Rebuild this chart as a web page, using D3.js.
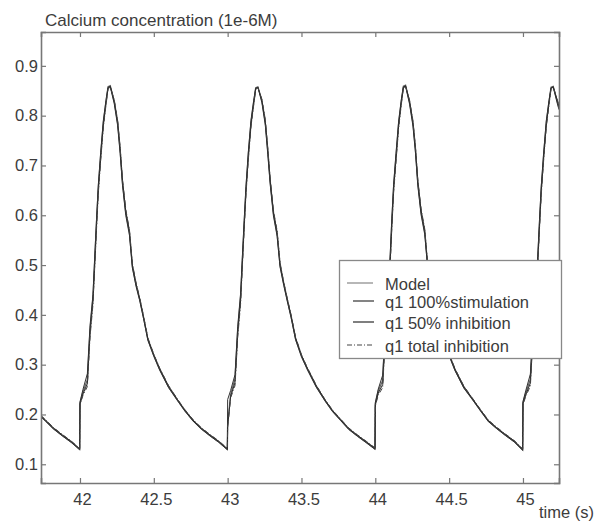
<!DOCTYPE html>
<html>
<head>
<meta charset="utf-8">
<script src="https://cdn.jsdelivr.net/npm/d3@7"></script>
<style>
body{margin:0;background:#fff}
text{font-family:"Liberation Sans",Arial,Helvetica,sans-serif;fill:#3c3c3c}
</style>
</head>
<body>
<div id="chart"></div>
<script>
var w = 595
var h = 523

// sample times (s)
var time = [
41.736,41.765,41.820,41.880,41.940,41.998,
42.000,42.020,42.050,42.068,42.088,42.100,42.112,42.124,42.140,42.158,42.176,42.190,42.205,42.232,42.255,42.272,42.288,42.310,42.335,42.355,42.380,42.405,42.430,42.460,42.500,42.540,42.600,42.660,42.710,42.765,42.820,42.880,42.940,42.998,
43.000,43.020,43.050,43.068,43.088,43.100,43.112,43.124,43.140,43.158,43.176,43.190,43.205,43.232,43.255,43.272,43.288,43.310,43.335,43.355,43.380,43.405,43.430,43.460,43.500,43.540,43.600,43.660,43.710,43.765,43.820,43.880,43.940,43.998,
44.000,44.020,44.050,44.068,44.088,44.100,44.112,44.124,44.140,44.158,44.176,44.190,44.205,44.232,44.255,44.272,44.288,44.310,44.335,44.355,44.380,44.405,44.430,44.460,44.500,44.540,44.600,44.660,44.710,44.765,44.820,44.880,44.940,44.998,
45.000,45.020,45.050,45.068,45.088,45.100,45.112,45.124,45.140,45.158,45.176,45.190,45.205,45.232,45.244
]

// calcium concentration (1e-6 M)
var model = [
0.196,0.188,0.172,0.158,0.145,0.130,
0.223,0.245,0.270,0.370,0.435,0.510,0.586,0.655,0.720,0.785,0.828,0.858,0.860,0.828,0.785,0.730,0.665,0.605,0.565,0.497,0.460,0.430,0.395,0.350,0.318,0.290,0.255,0.229,0.208,0.188,0.172,0.158,0.145,0.130,
0.178,0.240,0.272,0.368,0.438,0.512,0.584,0.652,0.722,0.786,0.826,0.856,0.858,0.830,0.786,0.728,0.668,0.604,0.562,0.499,0.462,0.428,0.396,0.352,0.317,0.291,0.256,0.228,0.207,0.189,0.171,0.157,0.144,0.131,
0.221,0.247,0.268,0.372,0.433,0.508,0.588,0.657,0.718,0.784,0.829,0.859,0.861,0.827,0.784,0.731,0.664,0.606,0.566,0.496,0.459,0.431,0.394,0.349,0.319,0.289,0.254,0.230,0.209,0.187,0.173,0.159,0.146,0.129,
0.224,0.244,0.271,0.369,0.436,0.511,0.585,0.654,0.721,0.786,0.827,0.857,0.859,0.829,0.815
]
var stim100 = [
0.195,0.187,0.171,0.157,0.144,0.129,
0.225,0.250,0.282,0.378,0.441,0.518,0.592,0.660,0.726,0.790,0.831,0.857,0.858,0.824,0.780,0.724,0.660,0.600,0.560,0.494,0.457,0.428,0.393,0.349,0.317,0.289,0.254,0.228,0.207,0.187,0.171,0.157,0.144,0.129,
0.230,0.248,0.280,0.376,0.444,0.519,0.590,0.658,0.727,0.791,0.830,0.855,0.857,0.826,0.781,0.722,0.662,0.599,0.558,0.496,0.459,0.426,0.394,0.350,0.316,0.290,0.255,0.227,0.206,0.188,0.170,0.156,0.143,0.130,
0.224,0.251,0.279,0.380,0.440,0.516,0.594,0.662,0.724,0.789,0.832,0.858,0.859,0.823,0.779,0.725,0.659,0.601,0.561,0.493,0.456,0.429,0.392,0.348,0.318,0.288,0.253,0.229,0.208,0.186,0.172,0.158,0.145,0.128,
0.226,0.249,0.281,0.377,0.442,0.517,0.591,0.659,0.725,0.790,0.830,0.856,0.857,0.825,0.812
]
var inhib50 = [
0.197,0.189,0.173,0.159,0.146,0.131,
0.221,0.241,0.262,0.362,0.428,0.503,0.579,0.649,0.714,0.780,0.824,0.855,0.859,0.830,0.788,0.734,0.669,0.609,0.568,0.500,0.462,0.432,0.397,0.352,0.320,0.292,0.257,0.230,0.209,0.189,0.173,0.159,0.146,0.131,
0.176,0.236,0.264,0.361,0.430,0.505,0.577,0.646,0.716,0.781,0.823,0.854,0.857,0.831,0.789,0.732,0.671,0.607,0.566,0.502,0.464,0.430,0.398,0.354,0.319,0.293,0.258,0.229,0.208,0.190,0.172,0.158,0.145,0.132,
0.219,0.243,0.260,0.364,0.426,0.501,0.581,0.651,0.712,0.779,0.825,0.856,0.860,0.829,0.787,0.735,0.668,0.610,0.569,0.499,0.461,0.433,0.396,0.351,0.321,0.291,0.256,0.231,0.210,0.188,0.174,0.160,0.147,0.130,
0.222,0.240,0.263,0.363,0.429,0.504,0.578,0.648,0.715,0.781,0.824,0.855,0.858,0.831,0.818
]
var inhibTotal = [
0.198,0.190,0.174,0.160,0.147,0.132,
0.219,0.238,0.256,0.355,0.421,0.497,0.572,0.643,0.709,0.776,0.821,0.853,0.858,0.832,0.791,0.737,0.672,0.612,0.571,0.503,0.464,0.434,0.399,0.354,0.321,0.293,0.258,0.231,0.210,0.190,0.174,0.160,0.147,0.132,
0.174,0.233,0.258,0.354,0.423,0.498,0.571,0.641,0.711,0.777,0.820,0.852,0.856,0.833,0.792,0.735,0.674,0.610,0.569,0.505,0.466,0.432,0.400,0.356,0.320,0.294,0.259,0.230,0.209,0.191,0.173,0.159,0.146,0.133,
0.217,0.239,0.254,0.357,0.419,0.495,0.574,0.645,0.707,0.775,0.822,0.854,0.859,0.831,0.790,0.738,0.671,0.613,0.572,0.502,0.463,0.435,0.398,0.353,0.322,0.292,0.257,0.232,0.211,0.189,0.175,0.161,0.148,0.131,
0.220,0.237,0.257,0.356,0.422,0.497,0.572,0.642,0.710,0.777,0.821,0.853,0.857,0.833,0.820
]

var seriesNames = ["Model","q1 100%stimulation","q1 50% inhibition","q1 total inhibition"]
var xTicks = [42,42.5,43,43.5,44,44.5,45]
var yTicks = [0.1,0.2,0.3,0.4,0.5,0.6,0.7,0.8,0.9]

var mLeft = 41, mRight = 559, mTop = 32, mBottom = 483

var x = d3.scaleLinear().domain([41.736,45.244]).range([mLeft,mRight])
var y = d3.scaleLinear().domain([0.0624,0.968]).range([mBottom,mTop])

var svg = d3.select("#chart").append("svg").attr("width",w).attr("height",h)

svg.append("clipPath").attr("id","clip")
    .append("rect").attr("x",mLeft).attr("y",mTop).attr("width",mRight-mLeft).attr("height",mBottom-mTop)

var styles = [
    {stroke:"#666",width:1.3,dash:null},
    {stroke:"#333",width:1,dash:null},
    {stroke:"#2a2a2a",width:1,dash:null},
    {stroke:"#444",width:1,dash:"5,2,1,2"}
]
var allSeries = [model,stim100,inhib50,inhibTotal]

var line = d3.line()
    .x(function(d){return x(d[0])})
    .y(function(d){return y(d[1])})

var plot = svg.append("g").attr("clip-path","url(#clip)")
allSeries.forEach(function(vals,i){
    var pts = time.map(function(t,j){return [t,vals[j]]})
    plot.append("path")
        .attr("d",line(pts))
        .attr("fill","none")
        .attr("stroke",styles[i].stroke)
        .attr("stroke-width",styles[i].width)
        .attr("stroke-dasharray",styles[i].dash)
})

// axes, ticks pointing inward on all four sides
var axisColor = "#777"
var xBottom = svg.append("g").attr("transform","translate(0,"+mBottom+")")
    .call(d3.axisBottom(x).tickValues(xTicks).tickSize(-5).tickPadding(10).tickFormat(d3.format("")))
svg.append("g").attr("transform","translate(0,"+mTop+")")
    .call(d3.axisTop(x).tickValues(xTicks).tickSize(-5).tickFormat(""))
svg.append("g").attr("transform","translate("+mLeft+",0)")
    .call(d3.axisLeft(y).tickValues(yTicks).tickSize(-5).tickPadding(3).tickFormat(d3.format(".1f")))
svg.append("g").attr("transform","translate("+mRight+",0)")
    .call(d3.axisRight(y).tickValues(yTicks).tickSize(-5).tickFormat(""))

svg.selectAll(".domain").attr("stroke",axisColor).attr("stroke-width",1.6)
svg.selectAll(".tick line").attr("stroke",axisColor).attr("stroke-width",1.2)
svg.selectAll(".tick text").attr("font-size",16.5).attr("fill","#3c3c3c")
    .style("font-family","'Liberation Sans',Arial,sans-serif")
xBottom.selectAll(".tick text").attr("dx",2)

svg.append("text").attr("x",45).attr("y",26).attr("font-size",17).text("Calcium concentration (1e-6M)")
svg.append("text").attr("x",594).attr("y",518).attr("text-anchor","end").attr("font-size",16.5).text("time (s)")

// legend
var lg = svg.append("g")
lg.append("rect").attr("x",339.5).attr("y",260.5).attr("width",222).attr("height",98)
    .attr("fill","#fff").attr("stroke","#888").attr("stroke-width",1.3)
var rowY = [290,308,329,352]
var sampleX = [[347,373],[353,374],[353,374],[347,374]]
seriesNames.forEach(function(name,i){
    lg.append("line")
        .attr("x1",sampleX[i][0]).attr("x2",sampleX[i][1])
        .attr("y1",rowY[i]-7).attr("y2",rowY[i]-7)
        .attr("stroke",i==0?"#888":styles[i].stroke)
        .attr("stroke-width",1.2)
        .attr("stroke-dasharray",styles[i].dash)
    lg.append("text").attr("x",385).attr("y",rowY[i]).attr("font-size",16.5).text(name)
})
</script>
</body>
</html>
